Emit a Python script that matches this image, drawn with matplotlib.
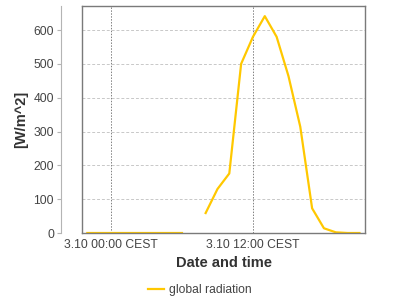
import numpy as np
import matplotlib
matplotlib.use("Agg")
import matplotlib.pyplot as plt
from matplotlib.lines import Line2D

# hours relative to 3.10 00:00 CEST, hourly values of global radiation
hours = [-2, -1, 0, 1, 2, 3, 4, 5, 6, 7, 8, 9, 10, 11, 12, 13, 14, 15, 16, 17, 18, 19, 20, 21]
radiation = [0, 0, 0, 0, 0, 0, 0, 0, 0, np.nan, 59, 130, 176, 500, 580, 641, 580, 464, 314, 73, 14, 2, 0, 0]
tick_hours = [0, 12]
tick_labels = ["3.10 00:00 CEST", "3.10 12:00 CEST"]
y_ticks = [0, 100, 200, 300, 400, 500, 600]

plt.rcParams['font.family'] = ['Liberation Sans', 'DejaVu Sans']

fig = plt.figure(figsize=(4, 3), dpi=100)
ax = fig.add_axes([0.205, 0.2233, 0.7075, 0.7567])

ax.plot(hours, radiation, color="#FFC800", linewidth=1.6, label="global radiation")

ax.set_xlim(-2.45, 21.47)
ax.set_ylim(0, 671)
ax.set_xticks(tick_hours)
ax.set_xticklabels(tick_labels)
ax.set_yticks(y_ticks)

# grid lines
for y in y_ticks[1:]:
    ax.axhline(y, color="#c8c8c8", linewidth=0.7, linestyle=(0, (3, 2)), zorder=0)
for x in tick_hours:
    ax.axvline(x, color="#808080", linewidth=0.7, linestyle=(0, (1.5, 1.5)), zorder=0)

# box and detached value axis
for s in ["top", "right", "bottom"]:
    ax.spines[s].set_color("#7a7a7a")
    ax.spines[s].set_linewidth(1.0)
ax.spines["left"].set_position(("outward", 15.1))
ax.spines["left"].set_color("#b4b4b4")
ax.spines["left"].set_linewidth(0.8)
ax.add_line(Line2D([0, 0], [0, 1], transform=ax.transAxes, color="#7a7a7a",
                   linewidth=1.0, clip_on=False))

ax.tick_params(axis="y", direction="out", length=3, width=0.8, color="#b4b4b4",
               labelsize=8.7, labelcolor="#444444", pad=2)
ax.tick_params(axis="x", length=0, labelsize=8.7, labelcolor="#444444", pad=4)

ax.set_xlabel("Date and time", fontsize=10.5, fontweight="bold", color="#333333", labelpad=4)
ax.set_ylabel("[W/m^2]", fontsize=10.5, fontweight="bold", color="#333333", labelpad=4)

fig.legend(loc="center", bbox_to_anchor=(0.5, 0.033), frameon=False, fontsize=8.7,
           handlelength=1.3, handletextpad=0.45, labelcolor="#444444")

fig.savefig("out.png", dpi=100)
